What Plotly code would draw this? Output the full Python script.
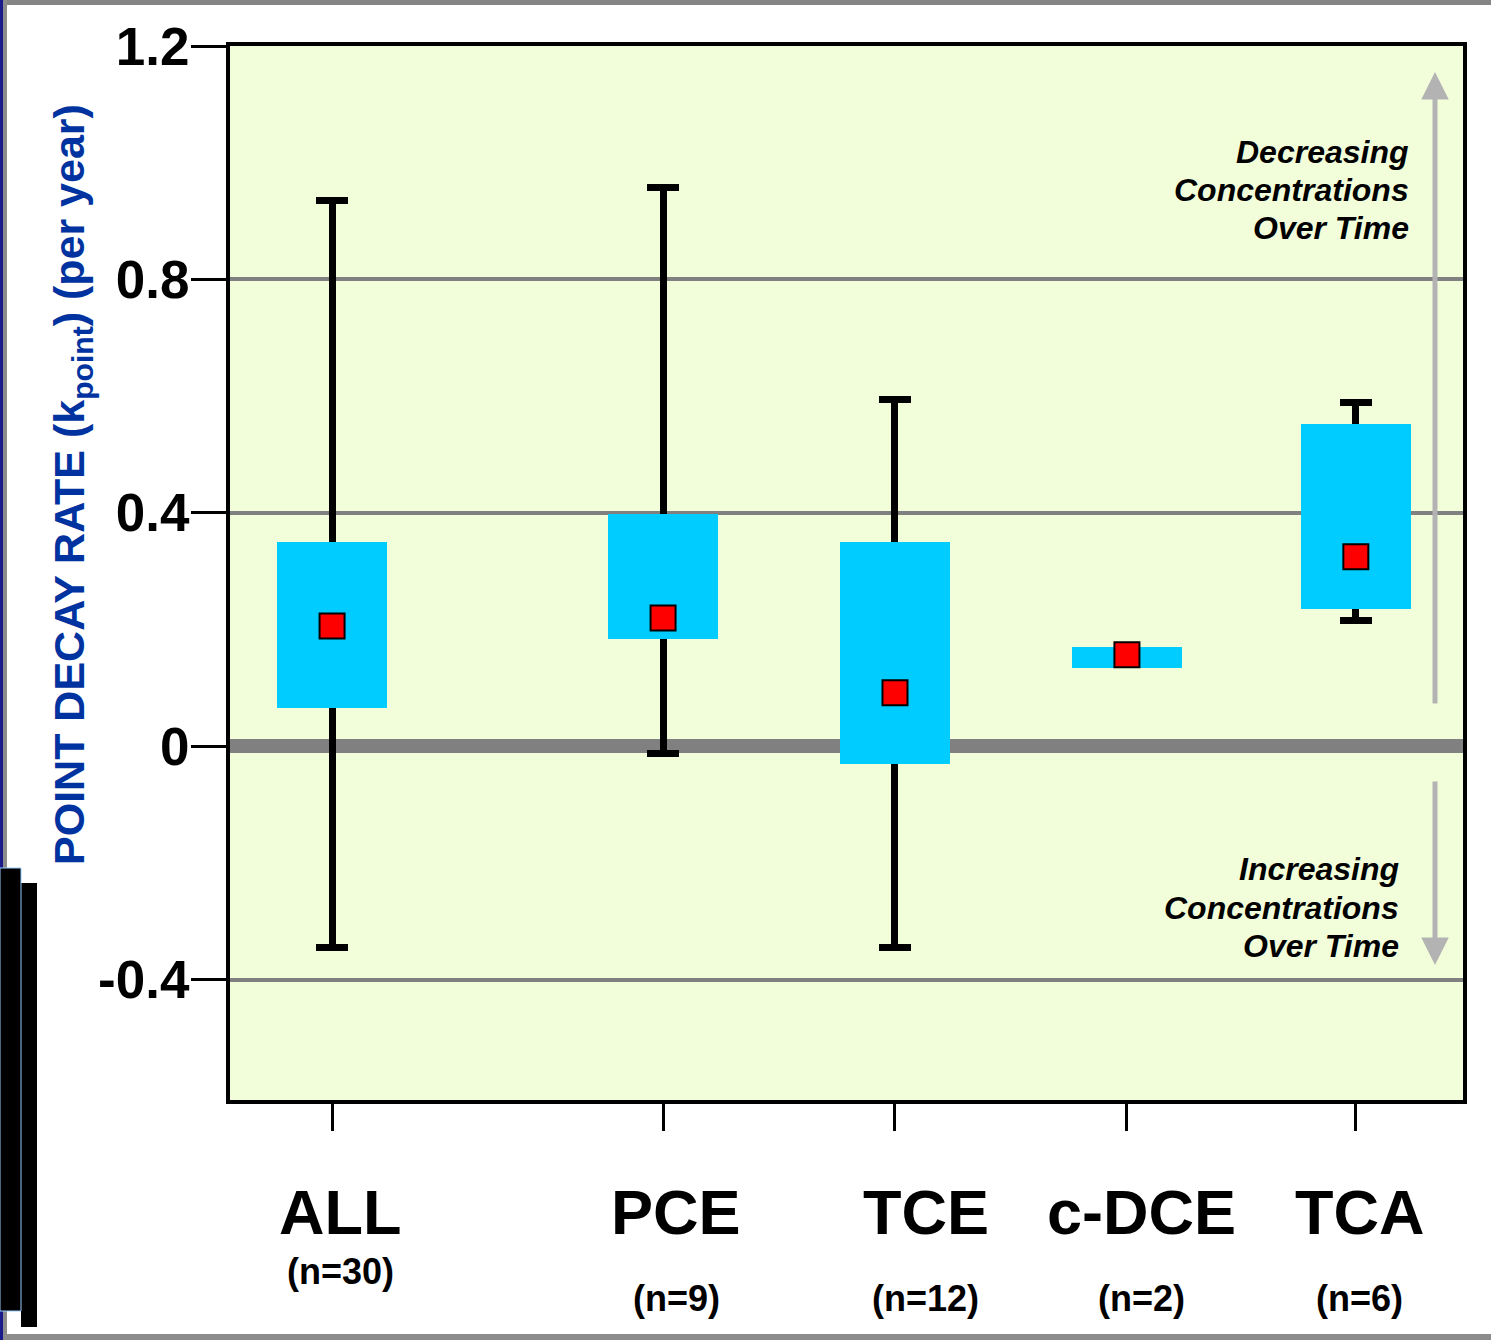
import plotly.graph_objects as go

# ---------------- data ----------------
categories = ["ALL", "PCE", "TCE", "c-DCE", "TCA"]
n_counts = [30, 9, 12, 2, 6]
point_value = [0.206, 0.220, 0.092, 0.157, 0.325]
box_low = [0.066, 0.184, -0.030, 0.135, 0.236]
box_high = [0.350, 0.398, 0.350, 0.170, 0.552]
whisker_low = [-0.345, -0.013, -0.345, None, 0.215]
whisker_high = [0.936, 0.957, 0.594, None, 0.590]
y_tick_values = [-0.4, 0, 0.4, 0.8, 1.2]
y_tick_labels = ["-0.4", "0", "0.4", "0.8", "1.2"]
upper_note = ["Decreasing", "Concentrations", "Over Time"]
lower_note = ["Increasing", "Concentrations", "Over Time"]

# ---------------- layout helpers ----------------
slot_pos = [0, 1.43, 2.432, 3.434, 4.423]      # category slots on the x axis
label_shift = [8, 13, 31, 15, 4]                # px shift of category labels
n_row_y = [-0.163, -0.188, -0.188, -0.188, -0.188]

W, H = 1491, 1340
ML, MR, MT, MB = 230, 28, 46, 240
PW, PH = W - ML - MR, H - MT - MB


def px_x(p):
    return (p - ML) / PW


def px_y(p):
    return (H - MB - p) / PH


FONT = "Arial, Liberation Sans, sans-serif"

fig = go.Figure()

# whiskers (drawn first so the boxes cover them)
wi = [i for i in range(len(categories)) if whisker_low[i] is not None]
fig.add_trace(go.Bar(
    x=[slot_pos[i] for i in wi],
    y=[point_value[i] for i in wi],
    width=0.475,
    marker=dict(color="rgba(0,0,0,0)", line=dict(width=0)),
    error_y=dict(type="data", symmetric=False,
                 array=[whisker_high[i] - point_value[i] for i in wi],
                 arrayminus=[point_value[i] - whisker_low[i] for i in wi],
                 color="black", thickness=7, width=16),
    hoverinfo="skip", showlegend=False))

# boxes
fig.add_trace(go.Bar(
    x=slot_pos,
    base=box_low,
    y=[h - l for h, l in zip(box_high, box_low)],
    width=0.475,
    marker=dict(color="#00CCFF", line=dict(width=0)),
    showlegend=False))

# point values
fig.add_trace(go.Scatter(
    x=slot_pos, y=point_value, mode="markers",
    marker=dict(symbol="square", size=25, color="#FF0000",
                line=dict(color="black", width=2)),
    showlegend=False))

annotations = []
for i, c in enumerate(categories):
    annotations.append(dict(
        x=slot_pos[i], xref="x", y=px_y(1212), yref="paper", xshift=label_shift[i],
        text=c, showarrow=False, xanchor="center", yanchor="middle",
        font=dict(size=63, family=FONT, color="black", weight="bold")))
    annotations.append(dict(
        x=slot_pos[i], xref="x", y=n_row_y[i], yref="paper", xshift=label_shift[i],
        text=f"(n={n_counts[i]})", showarrow=False, xanchor="center", yanchor="middle",
        font=dict(size=36, family=FONT, color="black", weight="bold")))

annotations.append(dict(
    x=px_x(72), xref="paper", y=px_y(485), yref="paper",
    text="POINT DECAY RATE (k<sub>point</sub>) (per year)",
    textangle=-90, showarrow=False, xanchor="center", yanchor="middle",
    font=dict(size=43, family=FONT, color="#0033A0", weight="bold")))

note_font = dict(size=32, family=FONT, color="black", weight="bold", style="italic")
for k, line in enumerate(upper_note):
    annotations.append(dict(
        x=px_x(1411), xref="paper", y=px_y(152 + 38 * k), yref="paper",
        text=line, showarrow=False, xanchor="right", yanchor="middle", font=note_font))
for k, line in enumerate(lower_note):
    annotations.append(dict(
        x=px_x(1401), xref="paper", y=px_y(869 + 38.5 * k), yref="paper",
        text=line, showarrow=False, xanchor="right", yanchor="middle", font=note_font))

# direction arrows
annotations.append(dict(
    x=px_x(1435), xref="paper", y=px_y(72), yref="paper", ax=0, ay=633,
    text="", showarrow=True, arrowhead=2, arrowsize=1.1, arrowwidth=5,
    arrowcolor="#B3B3B3", standoff=0))
annotations.append(dict(
    x=px_x(1435), xref="paper", y=px_y(965), yref="paper", ax=0, ay=-185,
    text="", showarrow=True, arrowhead=2, arrowsize=1.1, arrowwidth=5,
    arrowcolor="#B3B3B3", standoff=0))


# slide frame decorations
def rect(x0, y0, x1, y1, fill, line_color=None, lw=0):
    return dict(type="rect", xref="paper", yref="paper",
                x0=px_x(x0), x1=px_x(x1), y0=px_y(y1), y1=px_y(y0),
                fillcolor=fill, line=dict(color=line_color or fill, width=lw),
                layer="above")


shapes = [
    rect(0, 0, 1491, 5, "#858585"),
    rect(0, 1334, 1491, 1340, "#8C8C8C"),
    rect(0, 0, 3, 1340, "#1A1A8C"),
    rect(3, 0, 7, 1340, "#8C8C8C"),
    rect(21, 883, 37, 1327, "#000000"),
    rect(0, 868, 21, 1311, "#000000", "#99CCFF", 1),
]

fig.update_layout(
    width=W, height=H,
    margin=dict(l=ML, r=MR, t=MT, b=MB, autoexpand=False),
    paper_bgcolor="white",
    plot_bgcolor="#F2FEDA",
    barmode="overlay",
    bargap=0,
    showlegend=False,
    annotations=annotations,
    shapes=shapes,
    xaxis=dict(
        range=[-0.441, 4.886], tickvals=slot_pos, ticktext=[""] * len(slot_pos),
        ticks="outside", ticklen=27, tickwidth=3, tickcolor="black",
        showgrid=False, zeroline=False,
        showline=True, linecolor="black", linewidth=4, mirror=True,
    ),
    yaxis=dict(
        range=[-0.606, 1.2], tickvals=y_tick_values, ticktext=y_tick_labels,
        ticks="outside", ticklen=35, tickwidth=3, tickcolor="black",
        ticklabelstandoff=-9,
        tickfont=dict(size=53, family=FONT, color="black", weight="bold"),
        showgrid=True, gridcolor="#808080", gridwidth=4,
        zeroline=True, zerolinecolor="#808080", zerolinewidth=14,
        showline=True, linecolor="black", linewidth=4, mirror=True,
    ),
)

fig.write_html("out.html", config={"displayModeBar": False},
               post_script="document.body.style.margin='0px';document.body.style.overflow='hidden';")
